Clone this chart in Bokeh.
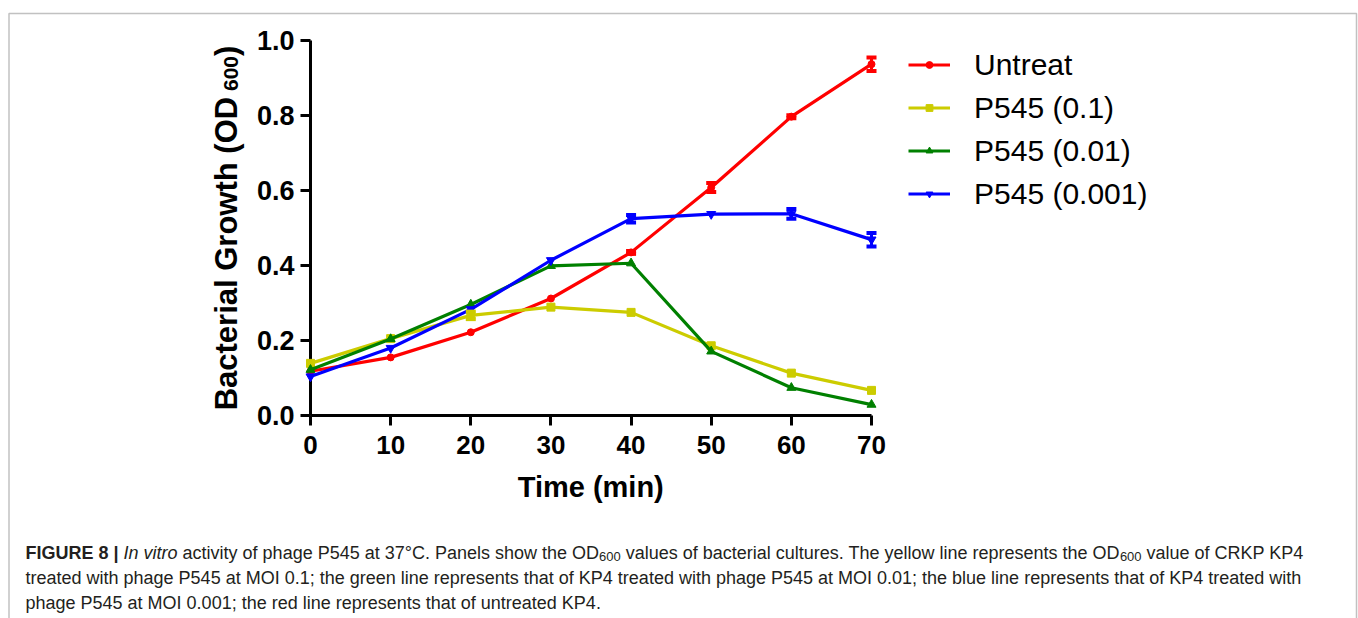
import math
from bokeh.plotting import figure
from bokeh.models import (Range1d, FixedTicker, PrintfTickFormatter, Legend, LegendItem,
                          Label, Whisker, TeeHead, ColumnDataSource, BoxAnnotation, LinearAxis)
from bokeh.embed import file_html
from bokeh.resources import INLINE

# ---------------- data ----------------
time_min = [0, 10, 20, 30, 40, 50, 60, 70]
untreat = [0.118, 0.155, 0.222, 0.312, 0.435, 0.608, 0.797, 0.937]
p545_01 = [0.139, 0.205, 0.267, 0.289, 0.275, 0.186, 0.113, 0.067]
p545_001 = [0.122, 0.204, 0.296, 0.399, 0.406, 0.171, 0.074, 0.029]
p545_0001 = [0.104, 0.180, 0.283, 0.414, 0.525, 0.537, 0.538, 0.469]
err_untreat = [0, 0, 0, 0, 0.004, 0.012, 0.004, 0.018]
err_p545_01 = [0, 0, 0.010, 0, 0, 0, 0, 0]
err_p545_001 = [0, 0, 0, 0, 0, 0, 0, 0]
err_p545_0001 = [0, 0, 0, 0, 0.010, 0, 0.013, 0.018]
series_names = ["Untreat", "P545 (0.1)", "P545 (0.01)", "P545 (0.001)"]
x_ticks = [0, 10, 20, 30, 40, 50, 60, 70]
y_ticks = [0.0, 0.2, 0.4, 0.6, 0.8, 1.0]

caption_line1 = [("FIGURE 8 | ", "bold", 0), ("In vitro", "italic", 0),
                 (" activity of phage P545 at 37°C. Panels show the OD", "normal", 0),
                 ("600", "normal", 1),
                 (" values of bacterial cultures. The yellow line represents the OD", "normal", 0),
                 ("600", "normal", 1), (" value of CRKP KP4", "normal", 0)]
caption_line2 = "treated with phage P545 at MOI 0.1; the green line represents that of KP4 treated with phage P545 at MOI 0.01; the blue line represents that of KP4 treated with"
caption_line3 = "phage P545 at MOI 0.001; the red line represents that of untreated KP4."

# ---------------- styles ----------------
colors = ["#FF0000", "#CCCC00", "#008000", "#0000FF"]
markers = ["circle", "square", "triangle", "inverted_triangle"]
msizes = [7, 8, 9, 9]
FONT = "Liberation Sans"

W, H = 1358, 618
# where data x=0..70 and y=0..1 sit on the canvas (px)
AX0, AX1, AY0, AY1 = 310, 871, 415, 40
BASE_CORR = 0.37  # empirical shift (em) of Bokeh's alphabetic baseline

# Arial/Liberation Sans advance widths (1/1000 em)
_R = {' ': 278, '(': 333, ')': 333, ',': 278, '.': 278, ';': 278, ':': 278, '|': 260, '°': 400,
      '-': 333}
_B = {' ': 278, '(': 333, ')': 333, '.': 278, '|': 280, ';': 278}
for d in "0123456789":
    _R[d] = 556
    _B[d] = 556
_R.update(dict(zip("ABCDEFGHIJKLMNOPQRSTUVWXYZ",
                   [667, 667, 722, 722, 667, 611, 778, 722, 278, 500, 667, 556, 833, 722, 778, 667,
                    778, 722, 667, 611, 722, 667, 944, 667, 667, 611])))
_R.update(dict(zip("abcdefghijklmnopqrstuvwxyz",
                   [556, 556, 500, 556, 556, 278, 556, 556, 222, 222, 500, 222, 833, 556, 556, 556,
                    556, 333, 500, 278, 556, 500, 722, 500, 500, 500])))
_B.update(dict(zip("ABCDEFGHIJKLMNOPQRSTUVWXYZ",
                   [722, 722, 722, 722, 667, 611, 778, 722, 278, 556, 722, 611, 833, 722, 778, 667,
                    778, 722, 667, 611, 722, 667, 944, 667, 667, 611])))
_B.update(dict(zip("abcdefghijklmnopqrstuvwxyz",
                   [556, 611, 556, 611, 556, 333, 611, 611, 278, 278, 556, 278, 889, 611, 611, 611,
                    611, 389, 556, 333, 611, 556, 778, 556, 556, 500])))


def tw(s, size, bold=False):
    tab = _B if bold else _R
    return sum(tab.get(c, 556) for c in s) * size / 1000.0


xs = (AX1 - AX0) / (x_ticks[-1] - x_ticks[0])
ys = (AY0 - AY1) / (y_ticks[-1] - y_ticks[0])
x_range = Range1d(x_ticks[0] - AX0 / xs, x_ticks[-1] + (W - AX1) / xs)
y_range = Range1d(y_ticks[0] - (H - AY0) / ys, y_ticks[-1] + AY1 / ys)

p = figure(width=W, height=H, output_backend="svg", toolbar_location=None,
           x_range=x_range, y_range=y_range, x_axis_location=None, y_axis_location=None,
           min_border=0)
p.outline_line_color = None
p.grid.visible = False
p.background_fill_color = "white"
p.border_fill_color = "white"


def dx(cx):
    return x_range.start + cx / xs


def dy(cy):
    return y_range.start + (H - cy) / ys


xaxis = LinearAxis(ticker=FixedTicker(ticks=x_ticks), fixed_location=y_ticks[0],
                   bounds=(x_ticks[0], x_ticks[-1]))
yaxis = LinearAxis(ticker=FixedTicker(ticks=y_ticks), fixed_location=x_ticks[0],
                   bounds=(y_ticks[0], y_ticks[-1]), formatter=PrintfTickFormatter(format="%.1f"))
for ax in (xaxis, yaxis):
    ax.axis_line_width = 3
    ax.axis_line_color = "black"
    ax.major_tick_line_width = 3
    ax.major_tick_line_color = "black"
    ax.major_tick_out = 10
    ax.major_tick_in = 0
    ax.minor_tick_line_color = None
    ax.major_label_text_font = FONT
    ax.major_label_text_font_style = "bold"
    ax.major_label_text_color = "black"
yaxis.major_label_text_font_size = "27px"
xaxis.major_label_text_font_size = "26px"
yaxis.major_label_standoff = 6
xaxis.major_label_standoff = 10
p.add_layout(xaxis, "below")
p.add_layout(yaxis, "left")

series = [untreat, p545_01, p545_001, p545_0001]
errs = [err_untreat, err_p545_01, err_p545_001, err_p545_0001]
items = []
for name, vals, err, c, m, ms in zip(series_names, series, errs, colors, markers, msizes):
    src = ColumnDataSource(dict(t=time_min, v=vals))
    rl = p.line("t", "v", source=src, line_color=c, line_width=3.2, level="overlay")
    rs = p.scatter("t", "v", source=src, marker=m, size=ms, fill_color=c, line_color=c,
                   level="overlay")
    et = [t for t, e in zip(time_min, err) if e > 0]
    if et:
        up = [v + e for v, e in zip(vals, err) if e > 0]
        lo = [v - e for v, e in zip(vals, err) if e > 0]
        wsrc = ColumnDataSource(dict(base=et, upper=up, lower=lo))
        wk = Whisker(base="base", upper="upper", lower="lower", source=wsrc, dimension="height",
                     line_color=c, line_width=3, level="overlay",
                     upper_head=TeeHead(size=10, line_width=4, line_color=c),
                     lower_head=TeeHead(size=10, line_width=4, line_color=c))
        p.add_layout(wk)
    items.append(LegendItem(label=name, renderers=[rl, rs]))

# legend (tuple location = bottom-left corner, in px from the frame's bottom-left)
legend = Legend(items=items, location=(908, 406.5), orientation="vertical",
                label_text_font=FONT, label_text_font_size="30px", label_text_color="black",
                glyph_width=42, glyph_height=17, label_height=36, spacing=7,
                label_standoff=24, padding=8, margin=0,
                border_line_color=None, background_fill_alpha=0)
p.add_layout(legend)


def lbl(cx, cy, text, size, style="normal", color="black", angle=0.0):
    if angle:
        cx -= BASE_CORR * size
    else:
        cy -= BASE_CORR * size
    p.add_layout(Label(x=dx(cx), y=dy(cy), text=text, text_font=FONT,
                       text_font_size=f"{size}px", text_font_style=style, text_color=color,
                       text_align="left", text_baseline="alphabetic", angle=angle))


# y axis title (rotated, with subscript)
ya_main, ya_sub, ya_end = "Bacterial Growth (OD", " 600", ")"
s_main, s_sub = 31, 21
tot = tw(ya_main, s_main, True) + tw(ya_sub, s_sub, True) + tw(ya_end, s_main, True)
ymid = (AY0 + AY1) / 2
y0 = ymid + tot / 2
base_x = 237
lbl(base_x, y0, ya_main, s_main, "bold", angle=math.pi / 2)
y1 = y0 - tw(ya_main, s_main, True) - tw(" ", s_sub, True)
lbl(base_x + 5 - BASE_CORR * (s_main - s_sub), y1, ya_sub.strip(), s_sub, "bold",
    angle=math.pi / 2)
y2 = y1 - tw("600", s_sub, True)
lbl(base_x, y2, ya_end, s_main, "bold", angle=math.pi / 2)

# x axis title
xt = "Time (min)"
lbl((AX0 + AX1) / 2 - tw(xt, 29, True) / 2, 497, xt, 29, "bold")

# caption
CAP = "#231f20"
cap_size, sub_size = 18, 13
cx = 25
for text, style, is_sub in caption_line1:
    size = sub_size if is_sub else cap_size
    bold = style == "bold"
    lead = len(text) - len(text.lstrip(" "))
    x_txt = cx + tw(" " * lead, size, bold)
    yb = 559 + ((4 - BASE_CORR * (cap_size - sub_size)) if is_sub else 0)
    lbl(x_txt, yb, text.strip(), size, style, CAP)
    cx += tw(text, size, bold)
lbl(25, 584, caption_line2, cap_size, "normal", CAP)
lbl(25, 609, caption_line3, cap_size, "normal", CAP)

# outer frame
p.add_layout(BoxAnnotation(left=dx(8.5), right=dx(1356), top=dy(13), bottom=dy(720),
                           fill_alpha=0, line_color="#333333", line_width=1.5))

open("out.html", "w").write(file_html(p, INLINE))
